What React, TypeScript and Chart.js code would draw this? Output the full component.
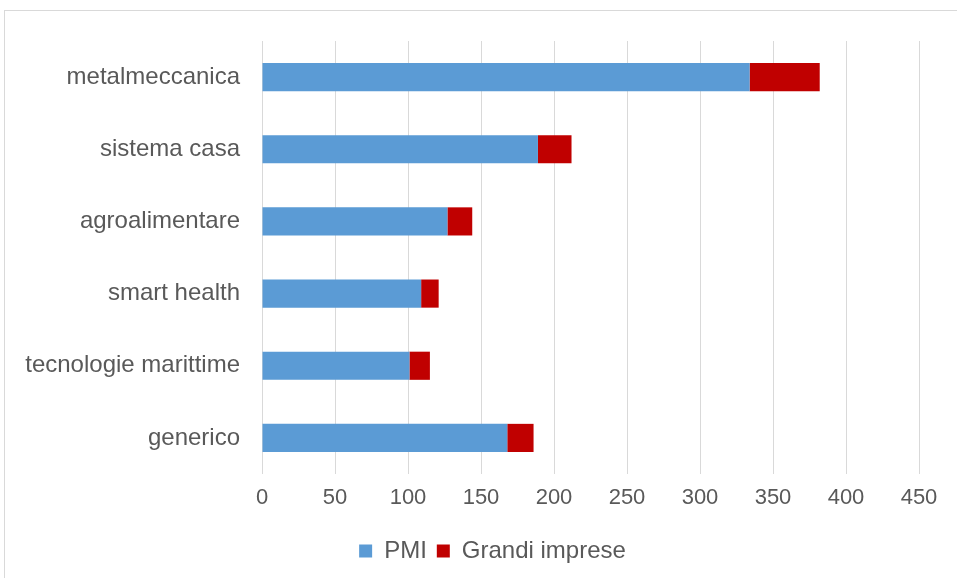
import React, { useEffect, useRef } from "react";
import { Chart, registerables } from "chart.js";

Chart.register(...registerables);

const categories = [
  "metalmeccanica",
  "sistema casa",
  "agroalimentare",
  "smart health",
  "tecnologie marittime",
  "generico",
];
const pmiValues = [334, 189, 127, 109, 101, 168];
const grandiValues = [48, 23, 17, 12, 14, 18];
const seriesNames = ["PMI", "Grandi imprese"];
const xMin = 0;
const xMax = 450;
const xStep = 50;

const FONT = "'Liberation Sans', Arial, sans-serif";
const TEXT = "#595959";

const legendShift = {
  id: "legendShift",
  afterLayout(chart: any) {
    const lg = chart.legend;
    if (lg) {
      lg.left += 33;
      lg.right += 33;
    }
  },
};

export default function App() {
  const ref = useRef<HTMLCanvasElement | null>(null);

  useEffect(() => {
    document.body.style.margin = "0";
    document.body.style.overflow = "hidden";
    const ctx = ref.current!.getContext("2d")!;
    const chart = new Chart(ctx, {
      type: "bar",
      data: {
        labels: categories,
        datasets: [
          {
            label: seriesNames[0],
            data: pmiValues,
            backgroundColor: "#5b9bd5",
            borderWidth: 0,
            categoryPercentage: 1,
            barPercentage: 0.39,
          },
          {
            label: seriesNames[1],
            data: grandiValues,
            backgroundColor: "#c00000",
            borderWidth: 0,
            categoryPercentage: 1,
            barPercentage: 0.39,
          },
        ],
      },
      options: {
        indexAxis: "y",
        animation: false,
        responsive: false,
        maintainAspectRatio: false,
        layout: { padding: { top: 41, right: 38, left: 0, bottom: 5 } },
        scales: {
          x: {
            stacked: true,
            min: xMin,
            max: xMax,
            ticks: {
              stepSize: xStep,
              color: TEXT,
              font: { family: FONT, size: 22 },
              padding: 11,
            },
            grid: { color: "#d9d9d9", lineWidth: 1, drawTicks: false },
            border: { display: false },
            afterFit: (s: any) => {
              s.height = 55;
            },
          },
          y: {
            stacked: true,
            ticks: {
              color: TEXT,
              font: { family: FONT, size: 24 },
              padding: 22,
            },
            grid: { display: false, drawTicks: false },
            border: { display: false },
            afterFit: (s: any) => {
              s.width = 262;
            },
          },
        },
        plugins: {
          legend: {
            position: "bottom",
            labels: {
              boxWidth: 13,
              boxHeight: 13,
              padding: 10,
              color: TEXT,
              font: { family: FONT, size: 24 },
            },
          },
          tooltip: { enabled: false },
        },
      },
      plugins: [legendShift],
    });
    return () => chart.destroy();
  }, []);

  return (
    <div style={{ position: "fixed", left: 0, top: 0, width: 957, height: 578, overflow: "hidden", background: "#fff" }}>
      <div
        style={{
          position: "absolute",
          left: 4,
          top: 10,
          width: 1000,
          height: 640,
          border: "1px solid #d9d9d9",
          boxSizing: "border-box",
        }}
      />
      <canvas ref={ref} width={957} height={578} style={{ position: "absolute", left: 0, top: 0, width: 957, height: 578 }} />
    </div>
  );
}
